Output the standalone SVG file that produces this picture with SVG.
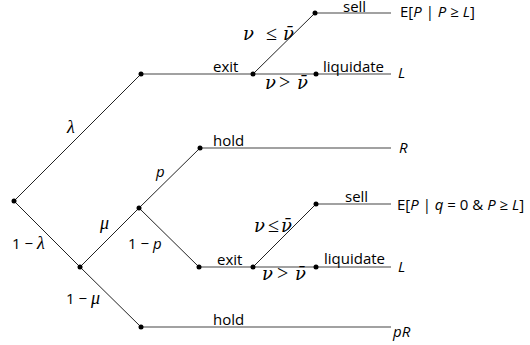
<svg xmlns="http://www.w3.org/2000/svg" width="530" height="345" viewBox="0 0 530 345">
<style>
.ln{stroke:#222;stroke-width:1;fill:none}
.hl{stroke:#444;stroke-width:1.2;fill:none}
.dot{fill:#000}
text{font-family:"Open Sans","Noto Sans",sans-serif;font-size:15px;fill:#000}
.m{font-family:"Liberation Serif","DejaVu Serif",serif;font-style:italic;font-size:18px}
.v{font-family:"DejaVu Serif",serif;font-style:italic;font-size:18px}
.b{font-family:"Liberation Serif","DejaVu Serif",serif;font-size:20px}
.i{font-style:italic}
</style>
<rect width="530" height="345" fill="#fff"/>
<g id="connectors">
<line class="ln" x1="14" y1="201" x2="141" y2="74"/>
<line class="hl" x1="141" y1="74" x2="253" y2="74"/>
<line class="ln" x1="253" y1="74" x2="315" y2="13"/>
<line class="hl" x1="315" y1="13" x2="391" y2="13"/>
<line class="hl" x1="253" y1="74" x2="391" y2="74"/>
<line class="ln" x1="14" y1="201" x2="80" y2="267"/>
<line class="ln" x1="80" y1="267" x2="139" y2="208"/>
<line class="ln" x1="139" y1="208" x2="200" y2="148"/>
<line class="hl" x1="200" y1="148" x2="391" y2="148"/>
<line class="ln" x1="139" y1="208" x2="199" y2="267"/>
<line class="hl" x1="199" y1="267" x2="391" y2="267"/>
<line class="ln" x1="253" y1="267" x2="316" y2="204"/>
<line class="hl" x1="316" y1="204" x2="391" y2="204"/>
<line class="ln" x1="80" y1="267" x2="141" y2="327"/>
<line class="hl" x1="141" y1="327" x2="391" y2="327"/>
</g>
<g id="n0"><circle class="dot" cx="14" cy="201" r="2.5"/></g>
<g id="n1"><circle class="dot" cx="141" cy="74" r="2.5"/></g>
<g id="n2"><circle class="dot" cx="253" cy="74" r="2.5"/></g>
<g id="n3"><circle class="dot" cx="315" cy="13" r="2.5"/></g>
<g id="n4"><circle class="dot" cx="316" cy="74" r="2.5"/></g>
<g id="n5"><circle class="dot" cx="80" cy="267" r="2.5"/></g>
<g id="n6"><circle class="dot" cx="139" cy="208" r="2.5"/></g>
<g id="n7"><circle class="dot" cx="200" cy="148" r="2.5"/></g>
<g id="n8"><circle class="dot" cx="199" cy="267" r="2.5"/></g>
<g id="n9"><circle class="dot" cx="253" cy="267" r="2.5"/></g>
<g id="n10"><circle class="dot" cx="316" cy="204" r="2.5"/></g>
<g id="n11"><circle class="dot" cx="316" cy="267" r="2.5"/></g>
<g id="n12"><circle class="dot" cx="141" cy="327" r="2.5"/></g>
<g id="labels">
<text x="213" y="72">exit</text>
<text y="40"><tspan class="v" x="243">ν</tspan><tspan class="b" x="266">≤</tspan><tspan class="v" x="283">ν̄</tspan></text>
<text y="89"><tspan class="v" x="265">ν</tspan><tspan class="b" x="279">&gt;</tspan><tspan class="v" x="297">ν̄</tspan></text>
<text x="343" y="12">sell</text>
<text x="400" y="17">E[<tspan class="i">P</tspan> | <tspan class="i">P</tspan> ≥ <tspan class="i">L</tspan>]</text>
<text x="323" y="72">liquidate</text>
<text x="398" y="78" class="i">L</text>
<text x="67" y="133" class="m">λ</text>
<text x="213" y="146">hold</text>
<text x="399" y="153" class="i">R</text>
<text x="156" y="177" class="i">p</text>
<text x="100" y="229" class="m">μ</text>
<text x="12" y="249">1 − <tspan class="m">λ</tspan></text>
<text x="128" y="249">1 − <tspan class="i">p</tspan></text>
<text x="345" y="202">sell</text>
<text x="397" y="210">E[<tspan class="i">P</tspan> | <tspan class="i">q</tspan> = 0 &amp; <tspan class="i">P</tspan> ≥ <tspan class="i">L</tspan>]</text>
<text y="232"><tspan class="v" x="254">ν</tspan><tspan class="b" x="268">≤</tspan><tspan class="v" x="281">ν̄</tspan></text>
<text x="217" y="265">exit</text>
<text x="324" y="264">liquidate</text>
<text x="398" y="272" class="i">L</text>
<text y="280"><tspan class="v" x="262">ν</tspan><tspan class="b" x="277">&gt;</tspan><tspan class="v" x="295">ν̄</tspan></text>
<text x="66" y="304">1 − <tspan class="m">μ</tspan></text>
<text x="213" y="325">hold</text>
<text x="393" y="337" class="i">pR</text>
</g>
</svg>
